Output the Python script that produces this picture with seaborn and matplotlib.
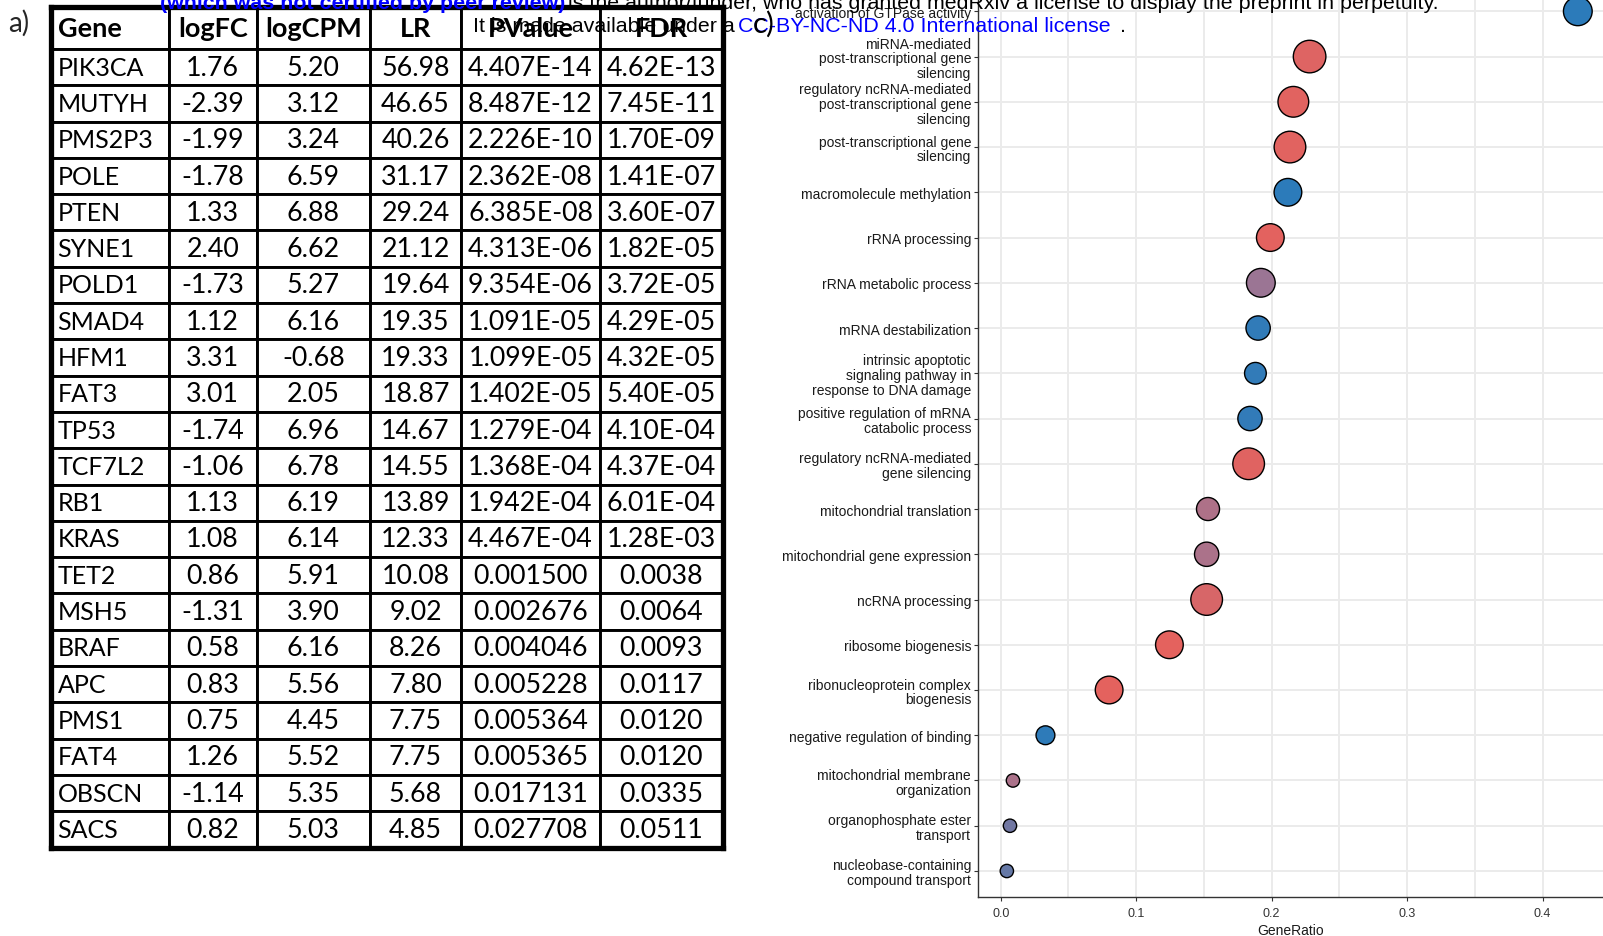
import numpy as np
import pandas as pd
import matplotlib
matplotlib.use("Agg")
import matplotlib.pyplot as plt
import seaborn as sns
from matplotlib.colors import LinearSegmentedColormap
from matplotlib.ticker import MultipleLocator
from matplotlib import font_manager

# ---------------- data: table (panel a) ----------------
headers = ["Gene", "logFC", "logCPM", "LR", "PValue", "FDR"]
genes = ["PIK3CA", "MUTYH", "PMS2P3", "POLE", "PTEN", "SYNE1", "POLD1", "SMAD4",
         "HFM1", "FAT3", "TP53", "TCF7L2", "RB1", "KRAS", "TET2", "MSH5", "BRAF",
         "APC", "PMS1", "FAT4", "OBSCN", "SACS"]
logfc = ["1.76", "-2.39", "-1.99", "-1.78", "1.33", "2.40", "-1.73", "1.12", "3.31",
         "3.01", "-1.74", "-1.06", "1.13", "1.08", "0.86", "-1.31", "0.58", "0.83",
         "0.75", "1.26", "-1.14", "0.82"]
logcpm = ["5.20", "3.12", "3.24", "6.59", "6.88", "6.62", "5.27", "6.16", "-0.68",
          "2.05", "6.96", "6.78", "6.19", "6.14", "5.91", "3.90", "6.16", "5.56",
          "4.45", "5.52", "5.35", "5.03"]
lr = ["56.98", "46.65", "40.26", "31.17", "29.24", "21.12", "19.64", "19.35", "19.33",
      "18.87", "14.67", "14.55", "13.89", "12.33", "10.08", "9.02", "8.26", "7.80",
      "7.75", "7.75", "5.68", "4.85"]
pvalue = ["4.407E-14", "8.487E-12", "2.226E-10", "2.362E-08", "6.385E-08", "4.313E-06",
          "9.354E-06", "1.091E-05", "1.099E-05", "1.402E-05", "1.279E-04", "1.368E-04",
          "1.942E-04", "4.467E-04", "0.001500", "0.002676", "0.004046", "0.005228",
          "0.005364", "0.005365", "0.017131", "0.027708"]
fdr = ["4.62E-13", "7.45E-11", "1.70E-09", "1.41E-07", "3.60E-07", "1.82E-05",
       "3.72E-05", "4.29E-05", "4.32E-05", "5.40E-05", "4.10E-04", "4.37E-04",
       "6.01E-04", "1.28E-03", "0.0038", "0.0064", "0.0093", "0.0117", "0.0120",
       "0.0120", "0.0335", "0.0511"]

# ---------------- data: GO dot plot (panel c) ----------------
terms = [
    "activation of GTPase activity",
    "miRNA-mediated\npost-transcriptional gene\nsilencing",
    "regulatory ncRNA-mediated\npost-transcriptional gene\nsilencing",
    "post-transcriptional gene\nsilencing",
    "macromolecule methylation",
    "rRNA processing",
    "rRNA metabolic process",
    "mRNA destabilization",
    "intrinsic apoptotic\nsignaling pathway in\nresponse to DNA damage",
    "positive regulation of mRNA\ncatabolic process",
    "regulatory ncRNA-mediated\ngene silencing",
    "mitochondrial translation",
    "mitochondrial gene expression",
    "ncRNA processing",
    "ribosome biogenesis",
    "ribonucleoprotein complex\nbiogenesis",
    "negative regulation of binding",
    "mitochondrial membrane\norganization",
    "organophosphate ester\ntransport",
    "nucleobase-containing\ncompound transport",
]
gene_ratio = [0.426, 0.228, 0.216, 0.2135, 0.212, 0.199, 0.192, 0.190, 0.188, 0.184,
              0.183, 0.153, 0.152, 0.152, 0.1245, 0.080, 0.033, 0.009, 0.0068, 0.0045]
counts = [14, 18, 16, 17, 13, 13, 14, 10, 8, 10, 17, 9, 10, 17, 13, 13, 6, 3, 3, 3]
p_adjust = [1.0, 0.05, 0.02, 0.02, 1.0, 0.01, 0.52, 0.98, 0.97, 0.97,
            0.03, 0.40, 0.42, 0.10, 0.0, 0.0, 0.99, 0.42, 0.70, 0.75]

# ---------------- style ----------------
sns.set_theme(style="white")
plt.rcParams['font.family'] = ['Liberation Sans', 'DejaVu Sans']

def has_font(name):
    try:
        font_manager.findfont(name, fallback_to_default=False)
        return True
    except Exception:
        return False

W, H = 1603, 937
fig = plt.figure(figsize=(W / 100, H / 100), dpi=100)

def fx(px):
    return px / W

def fy(py):
    return 1 - py / H

# ---------------- table ----------------
tl, tr, tt, tb = 50.5, 722.5, 7.5, 848.5
ax_t = fig.add_axes([fx(tl), fy(tb), fx(tr - tl), (tb - tt) / H])
ax_t.set_xticks([])
ax_t.set_yticks([])
ax_t.patch.set_visible(False)
for s in ax_t.spines.values():
    s.set_visible(True)
    s.set_linewidth(3.8)
    s.set_color("black")
    s.set_zorder(20)

col_px = np.array([168.7 - tl, 87.9, 113.4, 91.0, 139.0, tr - 600.0])
colw = col_px / col_px.sum()
cell_text = [list(r) for r in zip(genes, logfc, logcpm, lr, pvalue, fdr)]
tbl = ax_t.table(cellText=cell_text, colLabels=headers, colWidths=list(colw),
                 bbox=[0, 0, 1, 1], cellLoc="center")
tbl.auto_set_font_size(False)
tfont = ["Lato", "DejaVu Sans"]
for (r, c), cell in tbl.get_celld().items():
    cell.set_linewidth(2.1)
    cell.set_edgecolor("black")
    cell.set_facecolor("white")
    txt = cell.get_text()
    txt.set_fontfamily(tfont)
    txt.set_fontsize(18 if c == 0 else 19.3)
    txt.set_color("black")
    if r == 0:
        txt.set_fontweight("bold")
        txt.set_fontsize(19.5)
        cell.set_height(cell.get_height() * 1.17)
    if c == 0:
        cell._loc = "left"
        cell.PAD = 0.06
        txt.set_horizontalalignment("left")

# ---------------- dot plot ----------------
ax = fig.add_axes([fx(978), fy(897.6), fx(W - 978), 910.9 / H])
df = pd.DataFrame({"Description": terms, "GeneRatio": gene_ratio,
                   "Count": counts, "p.adjust": p_adjust})
cmap = LinearSegmentedColormap.from_list(
    "rb", [(0.0, "#E4625E"), (0.5, "#A07592"), (1.0, "#2C7BBA")])
sns.scatterplot(data=df, x="GeneRatio", y="Description", hue="p.adjust",
                size="Count", palette=cmap, hue_norm=(0, 1),
                sizes=(92, 550), size_norm=(3, 18), edgecolor="black",
                linewidth=1.0, legend=False, ax=ax, zorder=3)
ax.set_xlim(-0.0168, 0.4446)
ax.set_ylim(len(terms) - 1 + 0.566, -0.566)
ax.xaxis.set_major_locator(MultipleLocator(0.1))
ax.xaxis.set_minor_locator(MultipleLocator(0.05))
ax.set_xticks([0.0, 0.1, 0.2, 0.3, 0.4])
ax.set_xticklabels(["0.0", "0.1", "0.2", "0.3", "0.4"])
ax.set_axisbelow(True)
ax.grid(which="both", axis="x", color="#EBEBEB", lw=1.4)
ax.grid(which="major", axis="y", color="#EBEBEB", lw=1.4)
for side in ["top", "right"]:
    ax.spines[side].set_visible(False)
for side in ["left", "bottom"]:
    ax.spines[side].set_color("#333333")
    ax.spines[side].set_linewidth(1.0)
ax.tick_params(axis="y", which="major", length=3, width=0.8, color="#333333",
               pad=2, labelsize=10, labelcolor="#1A1A1A", left=True)
ax.tick_params(axis="x", which="major", length=3, width=0.8, color="#333333",
               pad=4.5, labelsize=9, labelcolor="#333333", bottom=True)
ax.tick_params(which="minor", length=0)
for lab in ax.get_yticklabels():
    lab.set_linespacing(1.08)
ax.set_ylabel("")
ax.set_xlabel("GeneRatio", fontsize=10, color="#1A1A1A", labelpad=3)

# ---------------- panel labels ----------------
fig.text(fx(8), fy(23), "a)", fontsize=20, family=tfont, va="center", ha="left")

# ---------------- preprint watermark ----------------
if has_font("Liberation Sans Narrow"):
    wfam, wsize = ["Liberation Sans Narrow", "DejaVu Sans"], 18.4
else:
    wfam, wsize = ["Liberation Sans", "DejaVu Sans"], 15.4
fig.text(fx(160), fy(9), "(which was not certified by peer review)", color="#0000FF",
         fontweight="bold", family=wfam, fontsize=wsize, va="baseline", ha="left")
fig.text(fx(568), fy(9),
         "is the author/funder, who has granted medRxiv a license to display the preprint in perpetuity.",
         color="black", family=wfam, fontsize=wsize, va="baseline", ha="left")
fig.text(fx(473), fy(32.5), "It is made available under a", color="black",
         family=wfam, fontsize=wsize, va="baseline", ha="left")
fig.text(fx(738), fy(32.5), "CC-BY-NC-ND 4.0 International license", color="#0000FF",
         family=wfam, fontsize=wsize, va="baseline", ha="left")
fig.text(fx(1120), fy(32.5), ".", color="black",
         family=wfam, fontsize=wsize, va="baseline", ha="left")
fig.text(fx(753), fy(24), "c)", fontsize=21, family=tfont, va="center", ha="left",
         color="black")

fig.savefig("out.png", dpi=100)
